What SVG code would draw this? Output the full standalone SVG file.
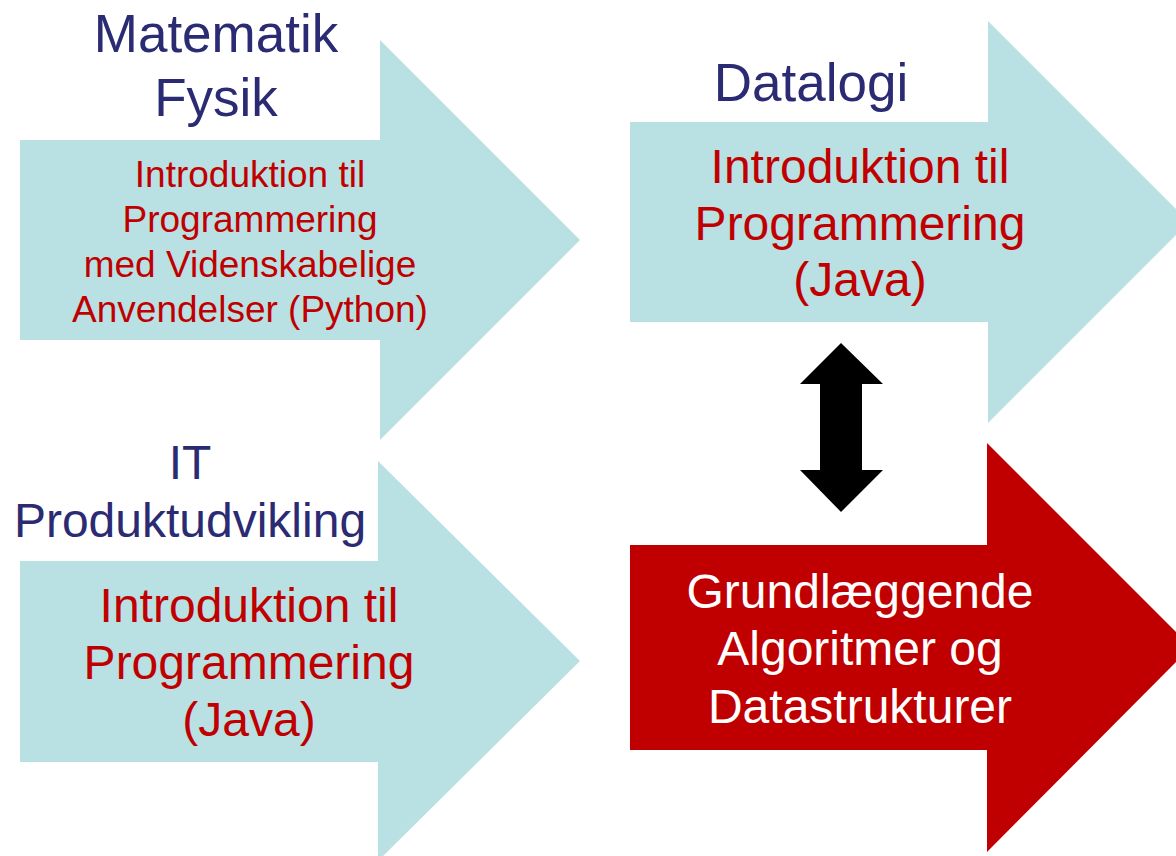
<svg xmlns="http://www.w3.org/2000/svg" width="1176" height="856" viewBox="0 0 1176 856">
  <style>
    text { font-family: "Liberation Sans", Arial, sans-serif; text-anchor: middle; }
    .blue { fill: #B9E0E3; }
    .red { fill: #C00000; }
    .head { fill: #2B2B73; }
    .course { fill: #C00000; }
    .course-w { fill: #FFFFFF; }
  </style>
  <rect width="1176" height="856" fill="#FFFFFF"/>

  <!-- Matematik / Fysik -->
  <g id="mat-fys">
    <polygon class="blue" points="20,140 380,140 380,40 580,240 380,440 380,340 20,340"/>
    <text class="head" x="216" y="52" font-size="53">Matematik</text>
    <text class="head" x="216" y="116" font-size="53">Fysik</text>
    <text class="course" x="250" y="187" font-size="37">Introduktion til</text>
    <text class="course" x="250" y="232" font-size="37">Programmering</text>
    <text class="course" x="250" y="277" font-size="37">med Videnskabelige</text>
    <text class="course" x="250" y="322" font-size="37">Anvendelser (Python)</text>
  </g>

  <!-- IT Produktudvikling -->
  <g id="it-prod">
    <polygon class="blue" points="20,561 378,561 378,461 580,661 378,861 378,762 20,762"/>
    <text class="head" x="190" y="479" font-size="48">IT</text>
    <text class="head" x="190" y="537" font-size="48">Produktudvikling</text>
    <text class="course" x="249" y="622" font-size="48">Introduktion til</text>
    <text class="course" x="249" y="679" font-size="48">Programmering</text>
    <text class="course" x="249" y="736" font-size="48">(Java)</text>
  </g>

  <!-- Datalogi -->
  <g id="datalogi">
    <polygon class="blue" points="630,122 988,122 988,21 1189,222 988,423 988,322 630,322"/>
    <text class="head" x="811" y="101" font-size="53">Datalogi</text>
    <text class="course" x="860" y="183" font-size="48">Introduktion til</text>
    <text class="course" x="860" y="240" font-size="48">Programmering</text>
    <text class="course" x="860" y="296" font-size="48">(Java)</text>
  </g>

  <!-- Grundlæggende Algoritmer og Datastrukturer -->
  <g id="dads">
    <polygon class="red" points="630,545 987,545 987,443 1191,647 987,852 987,750 630,750"/>
    <text class="course-w" x="860" y="608" font-size="48">Grundlæggende</text>
    <text class="course-w" x="860" y="665" font-size="48">Algoritmer og</text>
    <text class="course-w" x="860" y="723" font-size="48">Datastrukturer</text>
  </g>

  <!-- connectors -->
  <g id="connectors">
    <polygon fill="#000000" points="841,343 883,384 862,384 862,470 883,470 841,512 800,470 820,470 820,384 800,384"/>
  </g>
</svg>
